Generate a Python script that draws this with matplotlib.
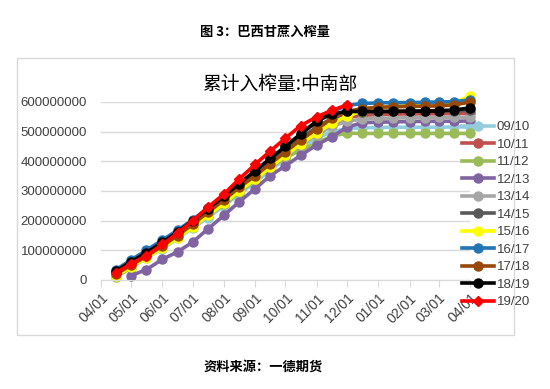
#!/usr/bin/env python3
"""
巴西中南部甘蔗累计入榨量（按榨季对比）。
"""
import matplotlib
matplotlib.use("Agg")
import matplotlib.pyplot as plt
import matplotlib.dates as mdates
import numpy as np
import pandas as pd
from matplotlib.patches import Rectangle

plt.rcParams["font.family"] = ["Liberation Sans", "Noto Sans CJK SC", "DejaVu Sans"]

# 半月度日期（榨季从 4 月开始）
fechas = pd.to_datetime(
    ["2019-04-16", "2019-05-01", "2019-05-16", "2019-06-01", "2019-06-16",
     "2019-07-01", "2019-07-16", "2019-08-01", "2019-08-16", "2019-09-01",
     "2019-09-16", "2019-10-01", "2019-10-16", "2019-11-01", "2019-11-16",
     "2019-12-01", "2019-12-16", "2020-01-01", "2020-01-16", "2020-02-01",
     "2020-02-16", "2020-03-01", "2020-03-16", "2020-04-01"]
)
nan = np.nan

# 累计入榨量，单位：百万吨
s0910 = [15, 45, 75, 105, 140, 175, 210, 250, 290, 330, 370, 410,
         445, 478, 500, 510, 513, 514, 515, 515, 515, 515, 516, 516]
s1011 = [22, 52, 82, 115, 150, 188, 228, 268, 310, 350, 390, 428,
         465, 500, 530, 548, 555, 558, 559, 560, 560, 560, 561, 562]
s1112 = [10, 42, 76, 110, 145, 180, 218, 255, 295, 338, 380, 412,
         438, 461, 485, 495, 494, 494, 494, 494, 494, 494, 494, 494]
s1213 = [nan, 15, 35, 70, 95, 128, 172, 218, 263, 308, 352, 385,
         420, 455, 483, 515, 530, 532, 533, 534, 535, 535, 535, 536]
s1314 = [18, 48, 78, 110, 145, 182, 220, 260, 300, 340, 380, 418,
         455, 490, 518, 535, 542, 545, 546, 547, 547, 548, 548, 549]
s1415 = [25, 58, 88, 122, 158, 195, 235, 275, 318, 358, 398, 438,
         478, 515, 545, 560, 566, 568, 569, 570, 570, 571, 571, 572]
s1516 = [15, 45, 75, 108, 142, 178, 218, 258, 300, 340, 380, 420,
         458, 495, 528, 552, 570, 580, 585, 588, 590, 592, 598, 620]
s1617 = [35, 68, 100, 135, 168, 203, 242, 282, 323, 365, 408, 450,
         492, 535, 568, 588, 595, 597, 598, 598, 599, 600, 601, 607]
s1718 = [20, 50, 80, 115, 150, 188, 228, 270, 312, 352, 392, 432,
         472, 510, 545, 568, 578, 582, 584, 585, 586, 587, 590, 600]
s1819 = [30, 62, 92, 127, 162, 200, 240, 282, 325, 368, 410, 450,
         492, 535, 560, 568, 568, 568, 568, 569, 569, 570, 573, 580]
s1920 = [25, 55, 82, 120, 158, 200, 245, 290, 340, 390, 435, 478,
         520, 550, 572, 590, nan, nan, nan, nan, nan, nan, nan, nan]

temporadas = ["09/10", "10/11", "11/12", "12/13", "13/14", "14/15",
              "15/16", "16/17", "17/18", "18/19", "19/20"]
series = [s0910, s1011, s1112, s1213, s1314, s1415,
          s1516, s1617, s1718, s1819, s1920]
colores = ["#93cddd", "#c0504d", "#9bbb59", "#8064a2", "#a6a6a6", "#595959",
           "#ffff00", "#2274b5", "#984807", "#000000", "#ff0000"]

fig = plt.figure(figsize=(5.5, 3.89), dpi=100)

# 外框
fig.patches.append(Rectangle((17 / 550, 1 - 335 / 389), 497 / 550, 277 / 389,
                             transform=fig.transFigure, fill=False,
                             edgecolor="#d9d9d9", linewidth=1.0))

ax = fig.add_axes([101 / 550, 1 - 280 / 389, 369 / 550, 178 / 389])

for nombre, datos, color in zip(temporadas, series, colores):
    marcador = "D" if nombre == "19/20" else "o"
    tam = 5 if nombre == "19/20" else 6.5
    ax.plot(fechas, np.array(datos, dtype=float) * 1e6, color=color,
            linewidth=2.6, marker=marcador, markersize=tam, label=nombre,
            clip_on=False)

ax.set_xlim(pd.Timestamp("2019-04-01"), pd.Timestamp("2020-04-01"))
ax.set_ylim(0, 600000000)
ax.set_yticks(np.arange(0, 600000001, 100000000))
ax.yaxis.set_major_formatter(plt.FuncFormatter(lambda v, p: f"{int(v)}"))
ax.xaxis.set_major_locator(mdates.MonthLocator())
ax.xaxis.set_major_formatter(mdates.DateFormatter("%m/%d"))

ax.grid(axis="y", color="#d9d9d9", linewidth=1.0)
ax.set_axisbelow(True)
for lado in ["left", "right", "top"]:
    ax.spines[lado].set_visible(False)
ax.spines["bottom"].set_color("#d9d9d9")
ax.tick_params(axis="y", length=0, labelsize=9.5, labelcolor="#404040", pad=10)
ax.tick_params(axis="x", length=5, color="#d9d9d9", labelsize=10,
               labelcolor="#404040", pad=3)
for etiqueta in ax.get_xticklabels():
    etiqueta.set_rotation(45)
    etiqueta.set_ha("right")
    etiqueta.set_rotation_mode("anchor")

fig.legend(loc="upper left", bbox_to_anchor=(462 / 550, 1 - 121 / 389),
           frameon=False, fontsize=9.5, handlelength=2.4, handletextpad=0.25,
           labelspacing=0.4, borderaxespad=0, borderpad=0,
           labelcolor="#404040")

fig.text(0.509, 1 - 84 / 389, "累计入榨量:中南部", ha="center", va="center",
         fontsize=13.5, family=["Noto Sans CJK SC", "DejaVu Sans"])
fig.text(265 / 550, 1 - 32 / 389, "图 3：巴西甘蔗入榨量", ha="center",
         va="center", fontsize=9.5, fontweight="bold",
         family=["Noto Sans CJK SC", "DejaVu Sans"])
fig.text(263 / 550, 1 - 367 / 389, "资料来源：一德期货", ha="center",
         va="center", fontsize=9.5, fontweight="bold",
         family=["Noto Sans CJK SC", "DejaVu Sans"])

fig.savefig("out.png", dpi=100)
